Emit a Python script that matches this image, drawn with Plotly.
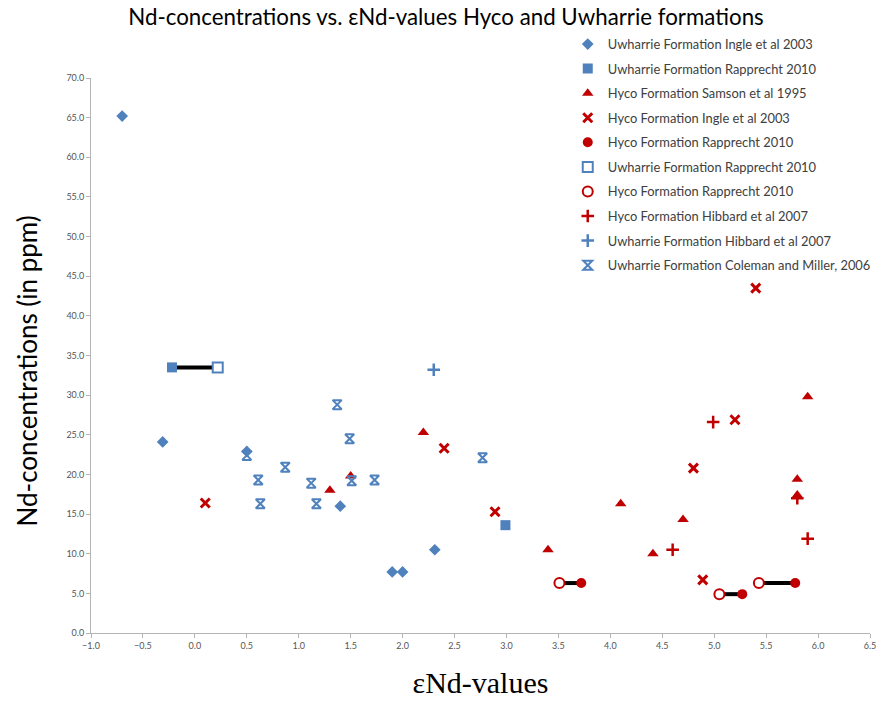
import plotly.graph_objects as go

BLUE = "#4f81bd"
RED = "#c00000"

# Uwharrie Formation, Ingle et al 2003
uw_ingle_x = [-0.70, -0.31, 0.50, 1.40, 1.90, 2.00, 2.31]
uw_ingle_y = [65.2, 24.1, 22.9, 16.0, 7.7, 7.7, 10.5]

# Uwharrie Formation, Rapprecht 2010 (filled / open pair members)
uw_rapp_x = [-0.22, 2.99]
uw_rapp_y = [33.5, 13.6]
uw_rapp_open_x = [0.22]
uw_rapp_open_y = [33.5]

# Hyco Formation, Samson et al 1995
hy_samson_x = [1.30, 1.50, 2.20, 3.40, 4.10, 4.41, 4.70, 5.80, 5.80, 5.90]
hy_samson_y = [18.0, 19.8, 25.3, 10.5, 16.3, 10.0, 14.3, 19.4, 17.4, 29.8]

# Hyco Formation, Ingle et al 2003
hy_ingle_x = [0.10, 2.40, 2.89, 4.80, 4.89, 5.20, 5.40]
hy_ingle_y = [16.4, 23.3, 15.3, 20.8, 6.7, 26.9, 43.5]

# Hyco Formation, Rapprecht 2010 (filled / open pair members)
hy_rapp_x = [3.72, 5.27, 5.78]
hy_rapp_y = [6.3, 4.9, 6.3]
hy_rapp_open_x = [3.51, 5.05, 5.43]
hy_rapp_open_y = [6.3, 4.9, 6.3]

# Hibbard et al 2007
hy_hibbard_x = [4.60, 4.99, 5.80, 5.90]
hy_hibbard_y = [10.5, 26.6, 17.0, 11.9]
uw_hibbard_x = [2.30]
uw_hibbard_y = [33.2]

# Uwharrie Formation, Coleman and Miller 2006
uw_coleman_x = [0.50, 0.61, 0.63, 0.87, 1.12, 1.17, 1.37, 1.49, 1.51, 1.73, 2.77]
uw_coleman_y = [22.4, 19.3, 16.3, 20.9, 18.9, 16.3, 28.8, 24.5, 19.2, 19.3, 22.1]

fig = go.Figure()

# black bars joining each filled/open pair
pairs = [(uw_rapp_x[0], uw_rapp_open_x[0], uw_rapp_y[0])]
pairs += [(a, b, y) for a, b, y in zip(hy_rapp_x, hy_rapp_open_x, hy_rapp_y)]
for xa, xb, yv in pairs:
    fig.add_trace(go.Scatter(x=[xa, xb], y=[yv, yv], mode="lines",
                             line=dict(color="black", width=4),
                             showlegend=False, hoverinfo="skip"))


def add_series(name, xs, ys, symbol, color, size, group, lw=0, fill=True):
    marker = dict(symbol=symbol, size=size, color=color if fill else "white",
                  line=dict(color=color, width=lw))
    fig.add_trace(go.Scatter(x=xs, y=ys, mode="markers", name=name,
                             marker=marker, legendgroup=group))


add_series("Uwharrie Formation Ingle et al 2003", uw_ingle_x, uw_ingle_y, "diamond", BLUE, 9, "g1")
add_series("Uwharrie Formation Rapprecht 2010", uw_rapp_x, uw_rapp_y, "square", BLUE, 10, "g2")
add_series("Hyco Formation Samson et al 1995", hy_samson_x, hy_samson_y, "triangle-up", RED, 10, "g3")
add_series("Hyco Formation Ingle et al 2003", hy_ingle_x, hy_ingle_y, "x-thin-open", RED, 9, "g4", lw=3)
add_series("Hyco Formation Rapprecht 2010", hy_rapp_x, hy_rapp_y, "circle", RED, 10, "g5")
add_series("Uwharrie Formation Rapprecht 2010", uw_rapp_open_x, uw_rapp_open_y, "square", BLUE, 10, "g6", lw=2, fill=False)
add_series("Hyco Formation Rapprecht 2010", hy_rapp_open_x, hy_rapp_open_y, "circle", RED, 10, "g7", lw=2, fill=False)
add_series("Hyco Formation Hibbard et al 2007", hy_hibbard_x, hy_hibbard_y, "cross-thin-open", RED, 9, "g8", lw=2.5)
add_series("Uwharrie Formation Hibbard et al 2007", uw_hibbard_x, uw_hibbard_y, "cross-thin-open", BLUE, 9, "g9", lw=2.5)
add_series("Uwharrie Formation Coleman and Miller, 2006", uw_coleman_x, uw_coleman_y, "hourglass-open", BLUE, 9, "g10", lw=2)

axis_common = dict(showgrid=False, zeroline=False, showline=True,
                   linecolor="#b4b4b4", linewidth=1, ticks="outside",
                   tickcolor="#b4b4b4", ticklen=4,
                   tickfont=dict(family="Lato", size=9, color="#555555"))

fig.update_layout(
    width=886, height=704,
    margin=dict(l=91, r=10, t=78, b=71),
    paper_bgcolor="white", plot_bgcolor="white",
    title=dict(text="Nd-concentrations vs. εNd-values Hyco and Uwharrie formations",
               x=(446 / 886), xanchor="center", y=0.975, yanchor="middle",
               font=dict(family="Lato", size=22.3, color="black")),
    xaxis=dict(range=[-1, 6.5], dtick=0.5, tick0=-1, tickformat=".1f",
               title=dict(text="εNd-values",
                          font=dict(family="Liberation Serif", size=30, color="black"),
                          standoff=22),
               **axis_common),
    yaxis=dict(range=[0, 70], dtick=5, tickformat=".1f", **axis_common),
    legend=dict(x=0.612, y=1.088, xanchor="left", yanchor="top",
                font=dict(family="Lato", size=12.9, color="#404040"),
                bgcolor="rgba(0,0,0,0)", tracegroupgap=4.8),
    annotations=[dict(text="Nd-concentrations (in ppm)", textangle=-90,
                      xref="paper", yref="paper", x=(27 - 91) / 785, y=(633 - 371) / 555,
                      xanchor="center", yanchor="middle", showarrow=False,
                      font=dict(family="Lato", size=26, color="black"))],
)

fig.write_html("out.html")
